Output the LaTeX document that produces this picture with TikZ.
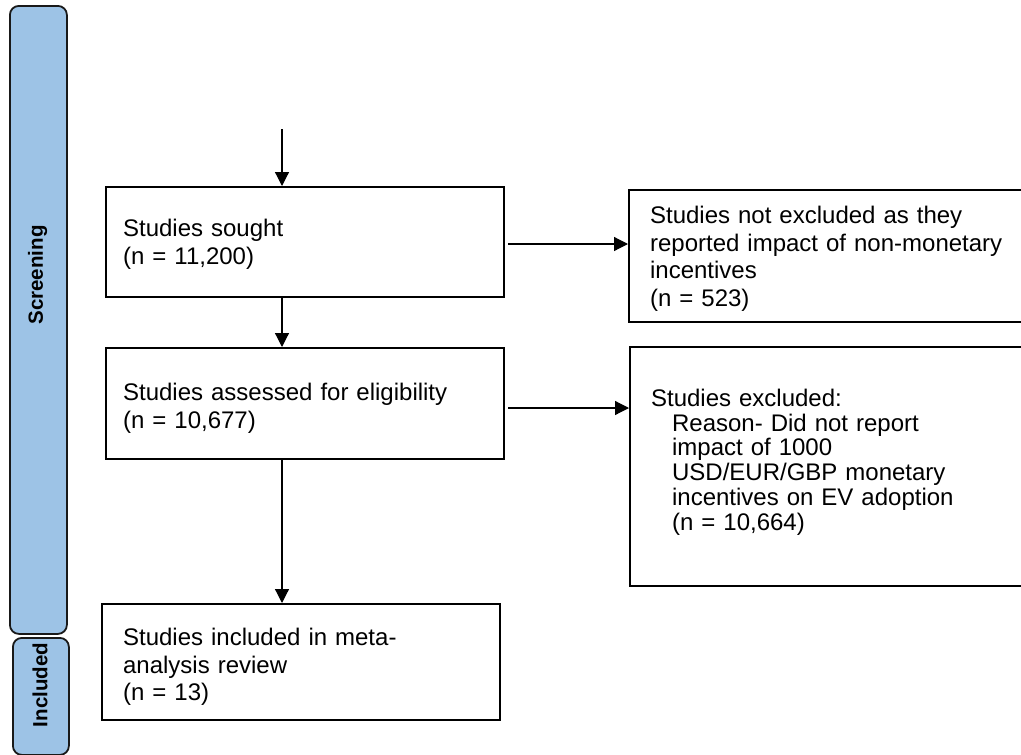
\documentclass[tikz,border=0pt]{standalone}
\usepackage{fontspec}
\setmainfont{Liberation Sans}
\usetikzlibrary{arrows.meta}
\definecolor{sideblue}{HTML}{9DC3E6}
\newcommand{\boxfont}{\fontsize{24}{27.5}\selectfont}
\newcommand{\exfont}{\fontsize{24}{24.8}\selectfont}
\newcommand{\sidefont}{\fontsize{20.5}{22}\selectfont\bfseries}
\newcommand{\topstrut}[1]{\rule{0pt}{#1}}
\begin{document}
\begin{tikzpicture}[x=1pt,y=-1pt,
  fbox/.style={draw=black, line width=2.2pt, inner xsep=17pt, inner ysep=0pt, font=\boxfont, align=left, anchor=north west},
  side/.style={draw=black!90, line width=1.8pt, fill=sideblue, rounded corners=9pt, anchor=north west, inner sep=0pt},
  sidelabel/.style={rotate=90, font=\sidefont, inner sep=0pt},
  conn/.style={line width=1.2pt, -{Triangle[width=14pt,length=14pt]}}]
\clip (0,0) rectangle (1021,755);
% sidebars
\node[side, minimum width=57pt, minimum height=628pt] (scr) at (9,5) {};
\node[sidelabel] (scrlabel) at (37.5,275) {Screening};
\node[side, minimum width=56pt, minimum height=117pt] (inc) at (12,637) {};
\node[sidelabel] (inclabel) at (40,685) {Included};
% boxes
\node[fbox, text width=364pt, minimum height=110pt] (sought) at (105,186) {\topstrut{21.5pt}Studies sought\\(n = 11,200)};
\node[fbox, inner xsep=21pt, text width=360pt, minimum height=132pt] (notex) at (628,189) {\topstrut{23pt}Studies not excluded as they\\reported impact of non-monetary\\incentives\\(n = 523)};
\node[fbox, text width=364pt, minimum height=111pt] (assess) at (105,347) {\topstrut{27pt}Studies assessed for eligibility\\(n = 10,677)};
\node[fbox, inner xsep=21pt, text width=360pt, minimum height=239pt, font=\exfont] (excl) at (629,346) {Studies excluded:\\
\hspace*{21pt}Reason- Did not report\\
\hspace*{21pt}impact of 1000\\
\hspace*{21pt}USD/EUR/GBP monetary\\
\hspace*{21pt}incentives on EV adoption\\
\hspace*{21pt}(n = 10,664)\rule[-14pt]{0pt}{1pt}};
\node[fbox, inner xsep=21pt, text width=356pt, minimum height=116pt] (incl) at (101,603) {\topstrut{27pt}Studies included in meta-\\analysis review\\(n = 13)};
% connectors
\coordinate (start) at (282,129);
\coordinate (h1) at (508,244);
\coordinate (h2) at (508,408);
\draw[conn] (start) -- (start |- sought.north);
\draw[conn] (sought.south -| start) -- (assess.north -| start);
\draw[conn] (assess.south -| start) -- (incl.north -| start);
\draw[conn] (h1) -- (h1 -| notex.west);
\draw[conn] (h2) -- (h2 -| excl.west);
\end{tikzpicture}
\end{document}
